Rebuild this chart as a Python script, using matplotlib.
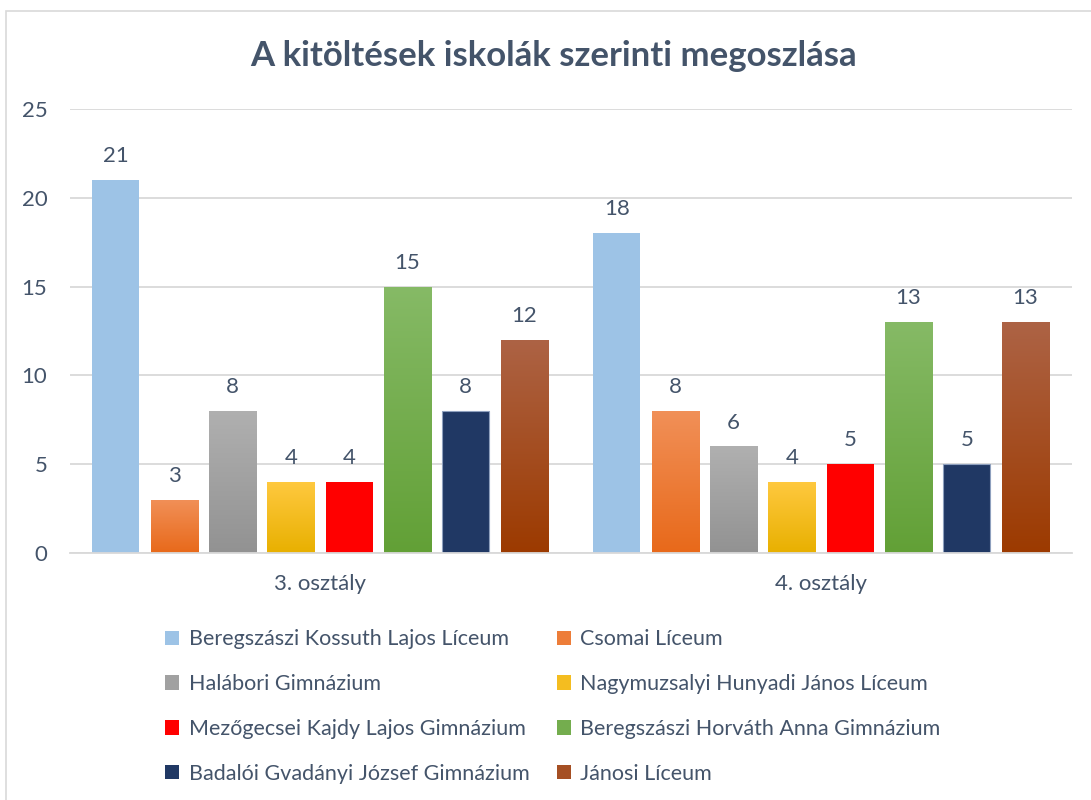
import numpy as np
import matplotlib.pyplot as plt
from matplotlib.patches import Rectangle, Patch
from matplotlib.colors import LinearSegmentedColormap

plt.rcParams['font.family'] = ['Lato', 'DejaVu Sans']

# data
categories = ['3. osztály', '4. osztály']
schools = [
    'Beregszászi Kossuth Lajos Líceum',
    'Csomai Líceum',
    'Halábori Gimnázium',
    'Nagymuzsalyi Hunyadi János Líceum',
    'Mezőgecsei Kajdy Lajos Gimnázium',
    'Beregszászi Horváth Anna Gimnázium',
    'Badalói Gvadányi József Gimnázium',
    'Jánosi Líceum',
]
values = [
    [21, 18],
    [3, 8],
    [8, 6],
    [4, 4],
    [4, 5],
    [15, 13],
    [8, 5],
    [12, 13],
]
# (top colour, bottom colour) per school; same colour = flat fill
fills = [
    ('#9DC3E6', '#9DC3E6'),
    ('#F19058', '#E8691A'),
    ('#B0B0B0', '#929292'),
    ('#FFC940', '#E8B000'),
    ('#FF0000', '#FF0000'),
    ('#86BA66', '#62A036'),
    ('#203864', '#203864'),
    ('#AD6345', '#9C3A00'),
]
text_color = '#44546A'
grid_color = '#D9D9D9'

W, H = 1091, 800
fig = plt.figure(figsize=(W / 100, H / 100), dpi=100)
fig.patches.append(Rectangle((6 / W, -0.01), 1.1, 1 - 11 / H + 0.01,
                             transform=fig.transFigure, fill=False,
                             edgecolor=grid_color, linewidth=1.2))

ax = fig.add_axes([69.5 / W, (H - 553) / H, 1002 / W, (553 - 109) / H])
ax.set_yticks(range(0, 26, 5))
ax.yaxis.grid(True, color=grid_color, linewidth=1.3)
ax.set_axisbelow(True)
for s in ['top', 'right', 'left']:
    ax.spines[s].set_visible(False)
ax.spines['bottom'].set_color(grid_color)
ax.spines['bottom'].set_linewidth(1.3)
ax.tick_params(length=0, labelsize=16, labelcolor=text_color)
ax.tick_params(axis='y', pad=16)
ax.tick_params(axis='x', pad=15)
ax.set_xticks(range(len(categories)))
ax.set_xticklabels(categories)

n = len(schools)
step = 0.1164
width = 0.094
x = np.arange(len(categories))
handles = []
for i, (name, vals, (top, bottom)) in enumerate(zip(schools, values, fills)):
    offs = x + (i - (n - 1) / 2) * step
    edge = '#8EA0BE' if name.startswith('Badal') else 'none'
    bars = ax.bar(offs, vals, width, color=top if top == bottom else 'none',
                  edgecolor=edge, linewidth=0.8, zorder=2)
    if top != bottom:
        cmap = LinearSegmentedColormap.from_list('g%d' % i, [bottom, top])
        grad = np.linspace(0, 1, 256).reshape(-1, 1)
        for b in bars:
            bx, by = b.get_x(), b.get_y()
            bw, bh = b.get_width(), b.get_height()
            im = ax.imshow(grad, cmap=cmap, origin='lower', aspect='auto',
                           extent=(bx, bx + bw, by, by + bh), zorder=2)
            im.set_clip_path(b)
    for xi, v in zip(offs, vals):
        ax.annotate(str(v), (xi, v), xytext=(0, 10), textcoords='offset points',
                    ha='center', va='bottom', fontsize=16, color=text_color)
    mid = LinearSegmentedColormap.from_list('m', [bottom, top])(0.5)
    handles.append(Patch(facecolor=mid, edgecolor='none'))
ax.set_xlim(-0.5, 1.5)
ax.set_ylim(0, 25)

fig.text(553 / W, 1 - 56 / H, 'A kitöltések iskolák szerinti megoszlása',
         ha='center', va='center', fontsize=25, fontweight='bold', color=text_color)

# legend is filled row by row in the reference
order = list(range(0, n, 2)) + list(range(1, n, 2))
fig.legend([handles[k] for k in order], [schools[k] for k in order],
           ncol=2, loc='upper left',
           bbox_to_anchor=(146 / W, 1 - 610 / H), frameon=False,
           fontsize=15.5, labelcolor=text_color, handlelength=0.65,
           handleheight=0.65, handletextpad=0.45, labelspacing=1.15,
           columnspacing=1.25)

fig.savefig('out.png', dpi=100)
